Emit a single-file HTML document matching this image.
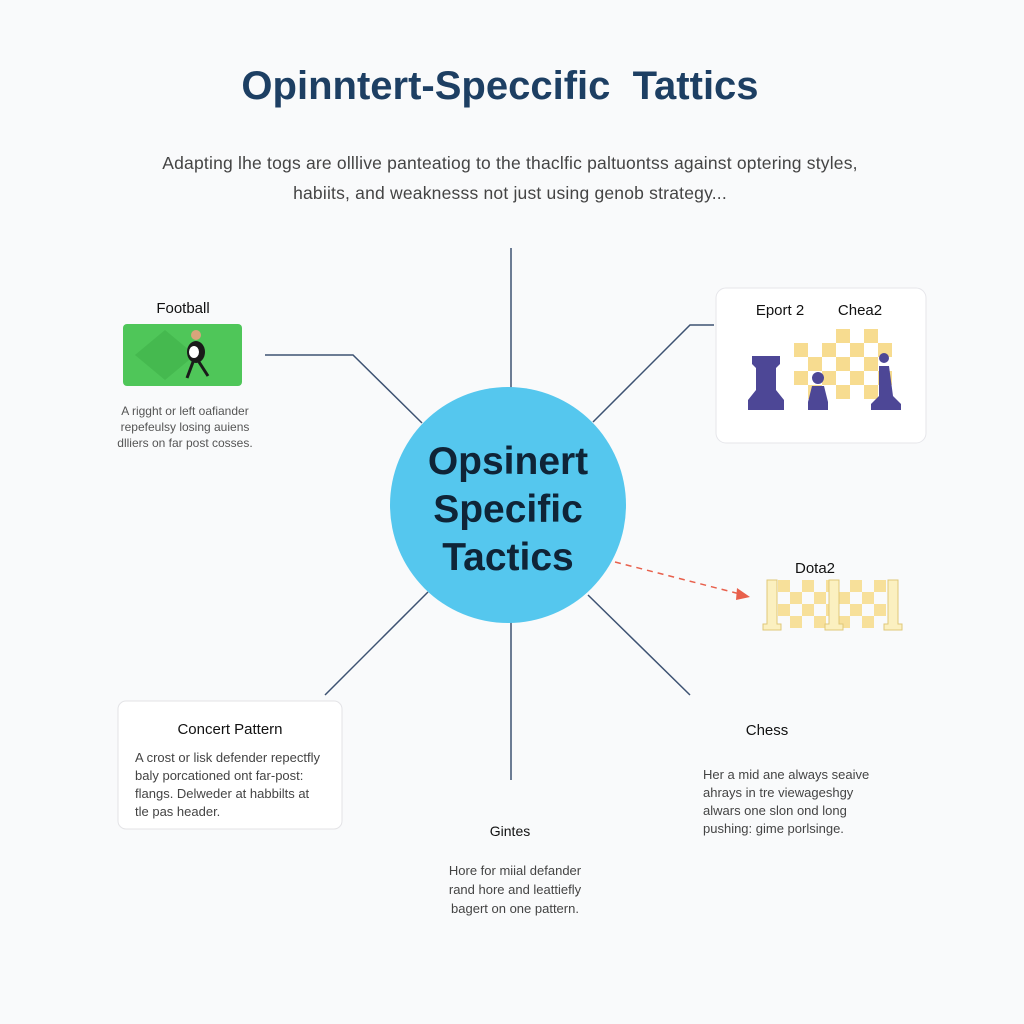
<!DOCTYPE html>
<html><head><meta charset="utf-8"><style>
html,body{margin:0;padding:0;background:#f9fafb;}
body{width:1024px;height:1024px;position:relative;overflow:hidden;font-family:"Liberation Sans",sans-serif;}
.t{position:absolute;text-align:center;}
</style></head><body>
<svg width="1024" height="1024" style="position:absolute;left:0;top:0">
<g stroke="#3d5272" stroke-width="1.5" fill="none">
<line x1="511" y1="248" x2="511" y2="390"/>
<line x1="511" y1="620" x2="511" y2="780"/>
<polyline points="265,355 353,355 422,423"/>
<polyline points="714,325 690,325 593,422"/>
<line x1="428" y1="592" x2="325" y2="695"/>
<line x1="588" y1="595" x2="690" y2="695"/>
</g>
<line x1="615" y1="562" x2="740" y2="594" stroke="#e8604c" stroke-width="1.5" stroke-dasharray="6,5"/>
<polygon points="750,597 737,588 736,600" fill="#e8604c"/>
<circle cx="508" cy="505" r="118" fill="#55c7ee"/>
<rect x="716" y="288" width="210" height="155" rx="10" fill="#fff" stroke="#e6e6ea"/>
<rect x="118" y="701" width="224" height="128" rx="8" fill="#fff" stroke="#e3e3e6"/>
<rect x="123" y="324" width="119" height="62" rx="4" fill="#4fc659"/>
<polygon points="135,355 165,330 195,355 165,380" fill="#45b94f"/>
<circle cx="196" cy="335" r="5" fill="#d9a47b"/>
<ellipse cx="196" cy="352" rx="9" ry="11" fill="#1a1a1a"/>
<ellipse cx="194" cy="352" rx="5" ry="6" fill="#fff"/>
<line x1="193" y1="362" x2="187" y2="378" stroke="#1a1a1a" stroke-width="3"/>
<line x1="199" y1="362" x2="208" y2="376" stroke="#1a1a1a" stroke-width="3"/>
<g fill="#f7dc90">
<rect x="794" y="343" width="14" height="14"/><rect x="822" y="343" width="14" height="14"/><rect x="850" y="343" width="14" height="14"/><rect x="878" y="343" width="14" height="14"/>
<rect x="808" y="357" width="14" height="14"/><rect x="836" y="357" width="14" height="14"/><rect x="864" y="357" width="14" height="14"/>
<rect x="794" y="371" width="14" height="14"/><rect x="822" y="371" width="14" height="14"/><rect x="850" y="371" width="14" height="14"/><rect x="878" y="371" width="14" height="14"/>
<rect x="808" y="385" width="14" height="14"/><rect x="836" y="385" width="14" height="14"/><rect x="864" y="385" width="14" height="14"/>
<rect x="836" y="329" width="14" height="14"/><rect x="864" y="329" width="14" height="14"/>
</g>
<g fill="#4d4796">
<path d="M752,356h28v8l-4,4v22l8,10v10h-36v-10l8,-10v-22l-4,-4z"/>
<circle cx="818" cy="378" r="6"/><path d="M812,386h12l4,16v8h-20v-8z"/>
<circle cx="884" cy="358" r="5"/><path d="M879,366h10l4,30l8,8v6h-30v-6l8,-8z"/>
</g>
<g fill="#f7e09a">
<rect x="778" y="580" width="12" height="12"/><rect x="802" y="580" width="12" height="12"/><rect x="826" y="580" width="12" height="12"/><rect x="850" y="580" width="12" height="12"/><rect x="874" y="580" width="12" height="12"/>
<rect x="790" y="592" width="12" height="12"/><rect x="814" y="592" width="12" height="12"/><rect x="838" y="592" width="12" height="12"/><rect x="862" y="592" width="12" height="12"/>
<rect x="778" y="604" width="12" height="12"/><rect x="802" y="604" width="12" height="12"/><rect x="826" y="604" width="12" height="12"/><rect x="850" y="604" width="12" height="12"/><rect x="874" y="604" width="12" height="12"/>
<rect x="790" y="616" width="12" height="12"/><rect x="814" y="616" width="12" height="12"/><rect x="838" y="616" width="12" height="12"/><rect x="862" y="616" width="12" height="12"/>
</g>
<g fill="#fbf0c0" stroke="#e0c878">
<path d="M767,580h10v44h4v6h-18v-6h4z"/><path d="M829,580h10v44h4v6h-18v-6h4z"/><path d="M888,580h10v44h4v6h-18v-6h4z"/>
</g>
</svg>
<div class="t" style="left:0;width:1000px;top:64px;font-size:40px;font-weight:bold;color:#1d3f63;">Opinntert-Speccific&nbsp; Tattics</div>
<div class="t" style="left:60px;width:900px;top:148px;font-size:17.5px;letter-spacing:0.2px;color:#444;line-height:30px;">Adapting lhe togs are olllive panteatiog to the thaclfic paltuontss against optering styles,<br>habiits, and weaknesss not just using genob strategy...</div>
<div class="t" style="left:398px;width:220px;top:438px;font-size:39px;font-weight:600;color:#0f2437;line-height:48px;">Opsinert<br>Specific<br>Tactics</div>
<div class="t" style="left:123px;width:120px;top:300px;font-size:15px;color:#111;">Football</div>
<div class="t" style="left:95px;width:180px;top:403px;font-size:12px;color:#555;line-height:16px;">A rigght or left oafiander<br>repefeulsy losing auiens<br>dlliers on far post cosses.</div>
<div class="t" style="left:745px;width:70px;top:302px;font-size:15px;color:#111;">Eport 2</div>
<div class="t" style="left:830px;width:60px;top:302px;font-size:15px;color:#111;">Chea2</div>
<div class="t" style="left:780px;width:70px;top:560px;font-size:15px;color:#111;">Dota2</div>
<div class="t" style="left:118px;width:224px;top:721px;font-size:15px;color:#111;">Concert Pattern</div>
<div style="position:absolute;left:135px;top:749px;font-size:13px;color:#444;line-height:18px;">A crost or lisk defender repectfly<br>baly porcationed ont far-post:<br>flangs. Delweder at habbilts at<br>tle pas header.</div>
<div class="t" style="left:717px;width:100px;top:722px;font-size:15px;color:#111;">Chess</div>
<div style="position:absolute;left:703px;top:766px;font-size:13px;color:#444;line-height:18px;">Her a mid ane always seaive<br>ahrays in tre viewageshgy<br>alwars one slon ond long<br>pushing: gime porlsinge.</div>
<div class="t" style="left:460px;width:100px;top:823px;font-size:14px;color:#111;">Gintes</div>
<div class="t" style="left:400px;width:230px;top:861px;font-size:13px;color:#444;line-height:19px;">Hore for miial defander<br>rand hore and leattiefly<br>bagert on one pattern.</div>
</body></html>
